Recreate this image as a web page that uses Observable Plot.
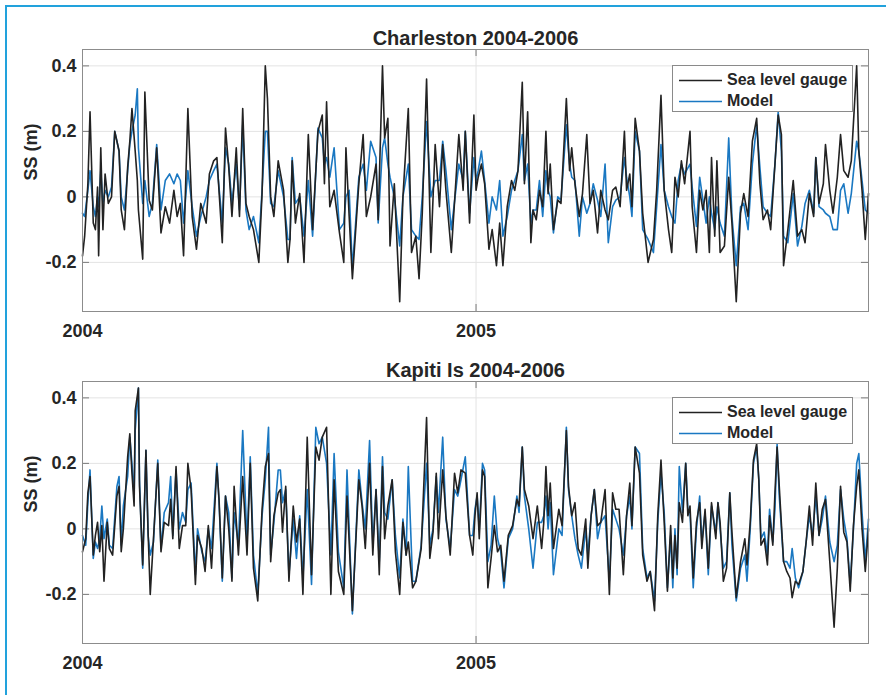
<!DOCTYPE html>
<html>
<head>
<meta charset="utf-8">
<script src="https://cdn.jsdelivr.net/npm/d3@7"></script>
<script src="https://cdn.jsdelivr.net/npm/@observablehq/plot@0.6"></script>
<style>
  html, body { margin: 0; padding: 0; background: white; }
  #wrap { position: relative; width: 886px; height: 695px; overflow: hidden; background: white; }
  #frame { position: absolute; left: 5px; top: 5px; width: 900px; height: 700px; border-left: 2px solid #22a2dc; border-top: 2px solid #22a2dc; }
  .panel { position: absolute; left: 0; }
  .legend { position: absolute; left: 672px; width: 181px; height: 47px; box-sizing: border-box; border: 1px solid #8a8a8a; background: white;
            font-family: "Liberation Sans", Arial, sans-serif; font-weight: bold; font-size: 16px; color: #262626; }
  .legend .row { position: absolute; left: 0; height: 20px; width: 100%; }
  .legend svg { position: absolute; left: 0; top: 0; }
  .legend span { position: absolute; left: 54px; top: 0; line-height: 20px; white-space: nowrap; }
</style>
</head>
<body>
<div id="wrap">
  <div id="frame"></div>
</div>
<script>
// ---------- data ----------
const seriesNames = ["Sea level gauge", "Model"];
const xTickYears = [2004, 2005];
const yTicks = [-0.2, 0, 0.2, 0.4];

// Charleston: day offsets from 2004-01-01, gauge and model surge (m)
const charDays = [0,2,5,7,10,12,14,15,17,19,21,24,27,30,34,36,39,42,44,46,49,51,52,56,58,62,65,69,73,77,81,85,88,91,94,98,102,106,110,115,118,122,125,130,133,136,139,143,146,149,152,155,159,164,167,170,172,175,178,182,187,191,193,195,198,202,206,210,214,219,223,225,227,230,234,239,243,245,248,251,257,261,264,268,273,275,279,281,284,286,290,295,298,303,306,310,313,316,320,324,328,332,335,338,343,350,354,356,360,364,366,368,371,374,378,381,385,388,391,395,399,402,405,409,411,414,417,419,422,425,428,431,433,435,438,442,445,450,453,455,458,462,465,469,472,475,479,482,486,489,493,496,500,504,506,509,511,514,518,521,526,531,534,538,541,545,548,551,554,557,560,565,567,571,574,577,580,583,585,588,590,593,597,601,604,608,612,615,619,623,627,630,633,637,640,644,647,650,652,656,661,665,669,672,676,680,682,685,689,691,695,698,702,705,708,712,715,720,722,725,728,731];
const charGauge = [-0.18,-0.12,0.04,0.26,-0.08,-0.10,0.03,-0.18,0.15,-0.10,0.07,-0.02,0.00,0.20,0.14,-0.04,-0.10,0.09,0.17,0.27,0.14,0.05,-0.04,-0.19,0.32,-0.01,-0.04,0.15,-0.11,-0.03,-0.08,0.02,-0.06,-0.02,-0.18,0.27,-0.06,-0.16,-0.02,-0.08,0.07,0.11,0.12,-0.14,0.21,0.09,-0.06,0.15,-0.06,0.27,-0.02,-0.06,-0.10,-0.20,0.01,0.40,0.30,0.00,-0.06,0.11,0.02,-0.20,-0.13,0.11,-0.08,0.01,-0.20,0.19,-0.10,0.20,0.25,0.04,0.29,-0.03,0.02,-0.11,-0.20,0.15,-0.06,-0.25,0.04,0.19,-0.06,0.00,0.10,-0.07,0.40,0.18,0.24,-0.15,0.04,-0.32,0.00,0.27,-0.17,-0.12,-0.25,-0.05,0.36,-0.17,0.16,-0.03,0.16,0.02,-0.17,0.19,0.02,0.20,-0.08,0.25,0.02,0.06,0.10,0.04,-0.16,-0.10,-0.21,-0.08,-0.21,-0.03,0.05,0.02,0.08,0.35,0.04,0.26,-0.14,-0.04,-0.07,0.02,-0.03,0.20,0.01,0.10,-0.10,-0.01,-0.02,0.30,0.08,0.15,0.04,-0.06,0.01,0.19,-0.02,0.02,-0.11,0.02,-0.04,-0.07,0.02,0.03,-0.03,0.20,0.02,0.07,-0.03,0.24,0.14,-0.05,-0.20,-0.13,0.02,0.31,0.02,-0.10,-0.17,0.06,0.00,0.11,0.04,0.20,-0.03,-0.17,0.02,-0.04,0.02,-0.17,0.12,-0.12,0.11,-0.17,-0.15,0.06,-0.08,-0.32,-0.05,0.01,-0.06,0.17,0.24,0.04,-0.07,-0.04,-0.10,0.10,0.25,0.19,-0.21,-0.10,0.05,-0.12,-0.10,-0.14,0.01,-0.06,0.12,-0.02,0.04,0.16,0.02,-0.05,0.06,0.19,0.08,0.06,0.11,0.40,0.14,0.02,-0.13,0.01];
const charModel = [-0.05,-0.06,0.02,0.08,-0.03,-0.06,0.00,-0.03,0.08,-0.02,0.02,0.00,0.03,0.20,0.14,0.00,-0.04,0.08,0.16,0.20,0.25,0.33,0.15,-0.02,0.05,-0.06,-0.02,0.16,-0.04,0.05,0.07,0.04,0.07,0.05,-0.08,0.08,-0.03,-0.12,-0.06,0.00,0.05,0.08,0.10,-0.08,0.15,0.10,-0.02,0.10,-0.04,0.22,-0.04,-0.10,-0.06,-0.14,0.02,0.20,0.20,-0.02,-0.03,0.08,0.00,-0.13,-0.13,0.12,-0.02,0.00,-0.12,0.05,-0.12,0.21,0.18,0.10,0.12,0.06,0.15,-0.10,-0.08,0.00,0.02,-0.22,0.06,0.10,0.02,0.17,0.12,-0.08,0.15,0.18,0.10,0.06,0.00,-0.15,0.00,0.10,-0.10,-0.12,-0.13,0.00,0.23,0.00,0.05,0.05,0.17,0.08,-0.10,0.10,0.05,0.20,-0.05,0.12,0.05,0.08,0.14,0.05,-0.08,0.00,-0.04,0.05,-0.12,-0.06,0.02,0.05,0.08,0.19,0.05,0.10,-0.08,-0.04,-0.04,0.05,-0.06,0.08,0.02,0.00,-0.11,0.00,-0.01,0.22,0.10,0.06,0.05,-0.12,0.00,-0.05,-0.02,0.04,-0.01,-0.06,0.10,-0.14,-0.03,-0.01,0.00,0.12,0.06,0.00,-0.06,0.20,0.14,-0.10,-0.13,-0.17,-0.03,0.16,0.02,-0.03,-0.06,-0.08,0.05,0.10,0.07,0.10,0.03,-0.09,0.06,-0.01,-0.08,0.00,-0.05,-0.10,-0.03,-0.08,-0.12,0.18,-0.06,-0.21,-0.03,-0.02,-0.10,0.10,0.22,0.09,-0.03,-0.05,-0.06,0.10,0.26,0.14,-0.12,-0.14,0.01,-0.15,-0.09,-0.02,0.02,-0.05,0.12,-0.03,-0.04,-0.05,-0.06,-0.10,-0.10,0.02,0.04,-0.05,0.01,0.17,0.14,0.05,-0.04,-0.05];

// Kapiti Is: day offsets from 2004-01-01, gauge and model surge (m)
const kapDays = [0,3,5,7,10,12,14,16,18,20,23,25,28,32,34,36,38,42,44,46,48,49,52,53,56,59,61,63,66,70,73,76,80,82,84,87,90,93,96,98,101,105,107,111,114,117,120,125,127,130,133,136,139,141,145,149,153,156,159,163,167,170,173,175,178,182,184,186,189,192,196,199,202,205,209,213,217,220,223,227,231,234,238,243,246,251,257,260,263,267,270,273,276,279,281,284,288,291,295,298,301,303,307,310,315,320,323,326,329,331,335,338,342,346,349,352,356,360,363,365,367,369,372,374,377,380,383,386,389,392,396,400,404,406,409,411,415,419,423,427,429,431,433,435,438,443,446,450,452,455,458,461,464,468,470,473,476,479,482,486,490,493,496,499,503,506,509,511,514,518,521,525,528,532,535,538,541,544,547,549,551,553,555,558,561,563,565,568,571,574,576,579,582,585,589,591,593,596,599,602,604,608,612,616,618,621,624,627,629,631,634,637,639,642,644,646,648,652,655,658,660,663,666,670,673,676,679,682,685,688,691,695,699,702,705,708,711,714,717,720,722,725,728,731];
const kapGauge = [-0.07,-0.03,0.11,0.16,-0.08,-0.02,0.02,-0.07,0.01,-0.16,0.02,-0.06,-0.08,0.10,0.13,-0.07,0.00,0.22,0.29,0.17,0.07,0.36,0.43,0.13,-0.11,0.24,-0.01,-0.20,-0.03,0.20,-0.07,0.02,0.01,0.09,-0.03,0.19,-0.06,0.01,0.01,0.20,0.12,-0.17,-0.02,-0.06,-0.13,0.01,-0.12,0.19,0.09,-0.15,0.10,0.00,-0.16,0.13,-0.08,0.16,-0.08,0.20,-0.12,-0.22,0.06,0.19,0.23,-0.10,0.04,0.11,0.12,-0.01,0.13,-0.16,0.07,-0.04,0.03,-0.20,0.28,-0.14,0.25,0.21,0.28,0.31,-0.20,0.15,-0.13,-0.20,0.10,-0.25,0.15,0.07,-0.06,0.20,-0.08,0.12,-0.14,0.19,-0.03,0.07,0.15,-0.07,-0.20,0.02,-0.08,-0.04,-0.18,-0.16,-0.06,0.34,-0.09,-0.01,0.17,-0.03,0.18,0.04,-0.08,0.17,0.11,0.18,0.17,-0.02,-0.08,0.04,0.11,-0.03,0.18,0.16,-0.18,-0.09,0.01,-0.07,-0.05,-0.16,-0.02,0.01,0.09,0.07,0.25,0.12,0.07,-0.03,0.07,-0.06,0.02,0.19,0.04,0.14,-0.06,0.06,0.01,0.30,0.13,0.04,0.08,-0.06,-0.08,0.03,-0.12,0.04,0.12,0.01,0.02,0.12,-0.20,0.11,0.06,0.06,-0.14,0.04,0.14,0.01,0.25,0.17,-0.08,-0.16,-0.13,-0.25,0.04,0.21,0.02,-0.19,0.01,-0.15,-0.02,-0.12,0.08,0.02,0.20,0.04,0.07,-0.15,0.02,0.08,-0.06,0.06,-0.12,0.08,-0.03,0.08,0.02,-0.16,-0.12,0.11,-0.01,-0.21,-0.10,-0.03,-0.11,0.02,0.21,0.26,0.15,-0.05,-0.03,-0.11,0.04,-0.05,0.11,0.25,0.13,-0.10,-0.13,-0.15,-0.21,-0.16,-0.17,-0.13,-0.04,0.07,-0.05,0.14,-0.02,0.06,0.09,-0.10,-0.30,-0.12,0.13,-0.01,-0.04,-0.19,0.01,0.13,0.18,0.00,-0.13,0.00];
const kapModel = [-0.02,-0.05,0.08,0.18,-0.09,-0.04,-0.06,-0.03,0.07,-0.03,0.03,-0.05,-0.06,0.13,0.16,-0.05,0.07,0.16,0.28,0.20,0.10,0.30,0.43,0.15,-0.12,0.24,-0.02,-0.08,-0.04,0.21,-0.06,0.05,0.08,0.16,-0.02,0.18,0.00,0.05,0.02,0.12,0.14,-0.14,0.00,-0.07,-0.10,0.00,-0.06,0.20,0.08,-0.16,0.10,0.05,-0.15,0.05,-0.05,0.30,-0.04,0.22,-0.08,-0.20,0.04,0.15,0.31,-0.08,0.02,0.18,0.18,0.08,0.12,-0.14,0.03,-0.09,0.04,-0.15,0.12,-0.17,0.31,0.26,0.28,0.20,-0.08,0.23,-0.07,-0.18,0.18,-0.26,0.18,0.08,0.00,0.27,-0.05,0.12,-0.10,0.22,0.05,0.03,0.15,-0.02,-0.15,0.03,-0.08,0.19,-0.16,-0.16,-0.05,0.20,-0.05,0.00,0.16,0.05,0.28,0.03,-0.06,0.12,0.10,0.15,0.22,-0.02,-0.02,0.06,0.10,0.00,0.20,0.18,-0.10,-0.05,0.10,-0.03,-0.07,-0.18,-0.03,0.00,0.10,0.05,0.25,0.10,0.00,-0.12,0.02,0.02,0.04,0.10,0.00,0.08,-0.14,0.00,-0.02,0.31,0.12,0.04,-0.03,-0.08,-0.12,0.00,-0.08,0.04,0.12,-0.03,0.02,0.04,-0.16,0.06,0.03,0.00,-0.08,0.04,0.10,0.00,0.25,0.23,-0.06,-0.15,-0.13,-0.22,0.02,0.17,0.05,-0.18,-0.02,-0.18,0.00,-0.14,0.19,0.05,0.20,0.06,0.05,-0.18,0.00,0.10,-0.04,0.05,-0.14,0.07,-0.01,0.08,0.00,-0.12,-0.10,0.11,-0.05,-0.22,-0.12,-0.08,-0.16,0.00,0.20,0.25,0.15,-0.03,-0.01,-0.08,0.06,-0.04,0.06,0.26,0.10,-0.10,-0.10,-0.12,-0.06,-0.15,-0.18,-0.13,-0.04,0.04,-0.02,0.10,-0.02,0.03,0.10,-0.04,-0.10,-0.05,0.12,0.03,-0.03,-0.17,0.00,0.20,0.23,0.05,-0.10,0.03];

// ---------- drawing ----------
const start = new Date(Date.UTC(2004, 0, 1));
const end = new Date(Date.UTC(2006, 0, 1));
const xTickDates = xTickYears.map(y => new Date(Date.UTC(y, 0, 1)));
const gaugeColor = "#222222";
const modelColor = "#1a78c2";
const textColor = "#262626";
const wrap = document.getElementById("wrap");

function panel(title, days, gauge, model, top) {
  const rows = days.map((d, i) => ({date: d3.utcDay.offset(start, d), gauge: gauge[i], model: model[i]}));
  const svg = Plot.plot({
    width: 886, height: 345,
    marginLeft: 82, marginRight: 18, marginTop: 49, marginBottom: 34,
    style: {fontFamily: "'Liberation Sans', Arial, sans-serif", fontSize: "18px", fontWeight: "bold", color: textColor, background: "transparent", overflow: "visible"},
    x: {type: "utc", domain: [start, end], ticks: xTickDates, tickFormat: d3.utcFormat("%Y"), tickSize: 0, tickPadding: 13, label: null},
    y: {domain: [-0.35, 0.45], ticks: yTicks, tickFormat: d => String(d), tickSize: 0, tickPadding: 6, label: null},
    marks: [
      Plot.ruleY(yTicks, {stroke: "#e3e3e3", strokeWidth: 1}),
      Plot.ruleX(xTickDates.slice(1), {stroke: "#e3e3e3", strokeWidth: 1}),
      Plot.tickY(yTicks, {insetRight: 779, stroke: "#7a7a7a"}),
      Plot.tickY(yTicks, {insetLeft: 779, stroke: "#7a7a7a"}),
      Plot.tickX(xTickDates.slice(1), {insetTop: 255, stroke: "#7a7a7a"}),
      Plot.tickX(xTickDates.slice(1), {insetBottom: 255, stroke: "#7a7a7a"}),
      Plot.lineY(rows, {x: "date", y: "model", stroke: modelColor, strokeWidth: 1.6}),
      Plot.lineY(rows, {x: "date", y: "gauge", stroke: gaugeColor, strokeWidth: 1.6}),
      Plot.frame({stroke: "#8c8c8c"}),
      Plot.text([title], {frameAnchor: "top", lineAnchor: "middle", dy: -11, fontSize: 20, fontWeight: "bold", fill: textColor}),
      Plot.text(["SS (m)"], {frameAnchor: "left", lineAnchor: "middle", dx: -51, rotate: -90, fontSize: 18, fontWeight: "bold", fill: textColor})
    ]
  });
  svg.classList.add("panel");
  svg.style.position = "absolute";
  svg.style.top = top + "px";
  svg.style.left = "0px";
  wrap.appendChild(svg);

  const lg = document.createElement("div");
  lg.className = "legend";
  lg.style.top = (top + 65) + "px";
  [[seriesNames[0], gaugeColor], [seriesNames[1], modelColor]].forEach(([name, color], i) => {
    const row = document.createElement("div");
    row.className = "row";
    row.style.top = (4 + i * 21) + "px";
    row.innerHTML = `<svg width="52" height="20"><line x1="6" x2="49" y1="10.5" y2="10.5" stroke="${color}" stroke-width="1.6"/></svg><span>${name}</span>`;
    lg.appendChild(row);
  });
  wrap.appendChild(lg);
}

panel("Charleston 2004-2006", charDays, charGauge, charModel, 0);
panel("Kapiti Is 2004-2006", kapDays, kapGauge, kapModel, 332);
</script>
</body>
</html>
